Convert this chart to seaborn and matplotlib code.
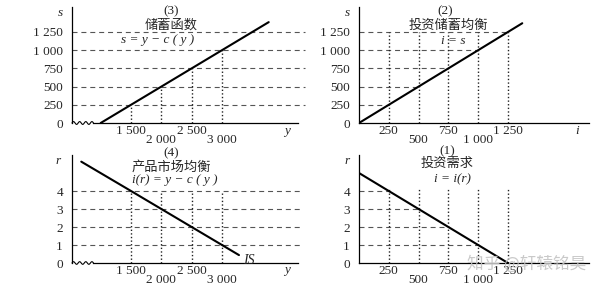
import numpy as np
import matplotlib
matplotlib.use("Agg")
import matplotlib.pyplot as plt
import seaborn as sns
import pandas as pd

# ---------------- data ----------------
# (3) savings function s = y - c(y)
income_ticks = [1500, 2000, 2500, 3000]
income_labels = ["1 500", "2 000", "2 500", "3 000"]
saving_at_ticks = [250, 500, 750, 1000]
saving_line_y = [1000, 1500, 2000, 2500, 3000, 3770]
saving_line_s = [0, 250, 500, 750, 1000, 1385]
s_ticks = [0, 250, 500, 750, 1000, 1250]
s_labels = ["0", "250", "500", "750", "1 000", "1 250"]

# (2) investment-savings equilibrium i = s
inv_ticks = [250, 500, 750, 1000, 1250]
inv_labels = ["250", "500", "750", "1 000", "1 250"]
eq_line_i = [0, 1370]
eq_line_s = [0, 1370]

# (4) goods market equilibrium (IS)
r_ticks = [0, 1, 2, 3, 4]
r_labels = ["0", "1", "2", "3", "4"]
r_at_income = [4, 3, 2, 1]
is_line_y = [680, 1500, 2000, 2500, 3000, 3280]
is_line_r = [5.63, 4, 3, 2, 1, 0.44]

# (1) investment demand i = i(r)
inv_at_r = [250, 500, 750, 1000]
invd_line_i = [0, 250, 500, 750, 1000, 1250]
invd_line_r = [5, 4, 3, 2, 1, 0]

# ---------------- style ----------------
sns.set_theme(style="white")
plt.rcParams["font.family"] = ["Liberation Serif", "Noto Sans CJK SC", "DejaVu Sans"]
SERIF = ["Liberation Serif", "DejaVu Serif"]
CJK = ["Noto Sans CJK SC", "DejaVu Sans"]
FS = 9.5

W, H = 600, 292
fig = plt.figure(figsize=(6.0, 2.92), dpi=100)
fig.patch.set_facecolor("white")


def rect(l, r, b, t):
    return [l / W, (H - b) / H, (r - l) / W, (b - t) / H]


def ftext(x, y, s, **kw):
    fig.text(x / W, 1 - y / H, s, ha=kw.pop("ha", "center"), va=kw.pop("va", "center"), **kw)


ax3 = fig.add_axes(rect(72, 298, 123, 7))
ax2 = fig.add_axes(rect(359, 589, 123, 7))
ax4 = fig.add_axes(rect(72, 298, 263, 155))
ax1 = fig.add_axes(rect(359, 589, 263, 155))

ax3.set_xlim(527, 4253)
ax4.set_xlim(527, 4253)
ax3.set_ylim(0, 1593)
ax2.set_ylim(0, 1593)
ax2.set_xlim(0, 1930)
ax1.set_xlim(0, 1930)
ax4.set_ylim(0, 6.0)
ax1.set_ylim(0, 6.0)

DASH = dict(color="#555555", lw=0.8, linestyle=(0, (4.5, 3.5)))
DOT = dict(color="#222222", lw=1.0, linestyle=(0, (1, 1.6)))
LINE = dict(color="black", lw=1.5)

for ax in (ax1, ax2, ax3, ax4):
    ax.set_facecolor("none")
    for sp in ("top", "right"):
        ax.spines[sp].set_visible(False)
    for sp in ("left", "bottom"):
        ax.spines[sp].set_color("black")
        ax.spines[sp].set_linewidth(0.9)
    ax.tick_params(length=0, labelsize=FS, pad=6.5)
    ax.set_xticks([])
    ax.set_xlabel("")
    ax.set_ylabel("")
    ax.grid(False)

# y tick labels
for ax in (ax3, ax2):
    ax.set_yticks(s_ticks)
    ax.set_yticklabels(s_labels, fontfamily=SERIF, fontsize=FS)
for ax in (ax4, ax1):
    ax.set_yticks(r_ticks)
    ax.set_yticklabels(r_labels, fontfamily=SERIF, fontsize=FS)

# broken-axis squiggle on the left panels
for ax in (ax3, ax4):
    x0, x1 = ax.get_xlim()
    start = x0 + (x1 - x0) * 0.095
    ax.spines["bottom"].set_bounds(start, x1)
    t = np.linspace(0, 1, 80)
    xs = x0 + (start - x0) * t
    ys = 0.012 * np.sin(t * 2 * np.pi * 3.5)
    ax.plot(xs, ys, color="black", lw=0.8, transform=ax.get_xaxis_transform(), clip_on=False)

# ---- panel (3) ----
for lev in s_ticks[1:]:
    ax3.axhline(lev, xmin=0, xmax=1.03, clip_on=False, **DASH)
ax3.vlines(income_ticks, 0, saving_at_ticks, **DOT)
sns.lineplot(x=saving_line_y, y=saving_line_s, ax=ax3, sort=False, estimator=None, **LINE)

# ---- panel (2) ----
ax2.hlines(s_ticks[1:], 0, inv_ticks, **DASH)
ax2.vlines(inv_ticks, 0, max(s_ticks), **DOT)
sns.lineplot(x=eq_line_i, y=eq_line_s, ax=ax2, sort=False, estimator=None, **LINE)

# ---- panel (4) ----
for lev in r_ticks[1:]:
    ax4.axhline(lev, xmin=0, xmax=1.01, clip_on=False, **DASH)
ax4.vlines(income_ticks, 0, max(r_ticks), **DOT)
sns.lineplot(x=is_line_y, y=is_line_r, ax=ax4, sort=False, estimator=None, **LINE)

# ---- panel (1) ----
ax1.hlines(r_at_income, 0, inv_at_r, **DASH)
ax1.vlines(inv_ticks, 0, max(r_ticks) + 0.15, **DOT)
sns.lineplot(x=invd_line_i, y=invd_line_r, ax=ax1, sort=False, estimator=None, **LINE)

# staggered x tick labels
def xlabels(ax, ticks, labels):
    for k, (v, lab) in enumerate(zip(ticks, labels)):
        off = -6.0 if k % 2 == 0 else -12.5
        ax.annotate(lab, xy=(v, 0), xycoords=("data", "axes fraction"),
                    xytext=(0, off), textcoords="offset points",
                    ha="center", va="center", fontsize=FS, fontfamily=SERIF)

xlabels(ax3, income_ticks, income_labels)
xlabels(ax4, income_ticks, income_labels)
xlabels(ax2, inv_ticks, inv_labels)
xlabels(ax1, inv_ticks, inv_labels)

# axis letters
IT = dict(fontfamily=SERIF, style="italic", fontsize=FS)
ftext(60, 13, "s", **IT)
ftext(287, 131, "y", **IT)
ftext(347, 13, "s", **IT)
ftext(577, 131, "i", **IT)
ftext(58, 161, "r", **IT)
ftext(287, 270, "y", **IT)
ftext(347, 161, "r", **IT)
ftext(249, 261, "IS", fontfamily=SERIF, style="italic", fontsize=10)

# titles
ftext(171, 11, "(3)", fontfamily=SERIF, fontsize=FS)
ftext(171, 25, "储蓄函数", fontfamily=CJK, fontsize=9.5)
ftext(158, 40, "s = y − c ( y )", **IT)
ftext(445, 11, "(2)", fontfamily=SERIF, fontsize=FS)
ftext(448, 25, "投资储蓄均衡", fontfamily=CJK, fontsize=9.5)
ftext(453, 41, "i = s", **IT)
ftext(171, 153, "(4)", fontfamily=SERIF, fontsize=FS)
ftext(171, 167, "产品市场均衡", fontfamily=CJK, fontsize=9.5)
ftext(175, 180, "i(r) = y − c ( y )", **IT)
ftext(447, 151, "(1)", fontfamily=SERIF, fontsize=FS)
ftext(447, 163, "投资需求", fontfamily=CJK, fontsize=9.5)
ftext(452, 179, "i = i(r)", **IT)

# watermark
ftext(527, 264, "知乎 @轩辕铭昊", fontfamily=CJK, fontsize=12, color="#c4c4c4", alpha=0.9)

fig.savefig("out.png", dpi=100, facecolor="white")
